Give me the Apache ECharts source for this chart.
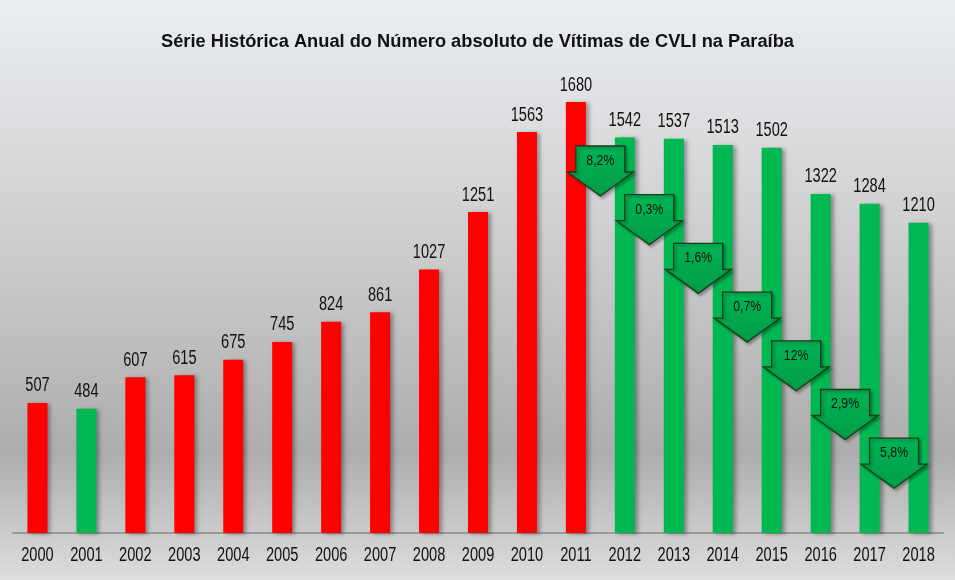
<!DOCTYPE html>
<html>
<head>
<meta charset="utf-8">
<script src="https://cdn.jsdelivr.net/npm/echarts@6/dist/echarts.min.js"></script>
<style>
html,body{margin:0;padding:0;background:#fff;}
#c{width:955px;height:580px;}
</style>
</head>
<body>
<div id="c"></div>
<script>
var years = ['2000','2001','2002','2003','2004','2005','2006','2007','2008','2009','2010','2011','2012','2013','2014','2015','2016','2017','2018'];
var victims = [507,484,607,615,675,745,824,861,1027,1251,1563,1680,1542,1537,1513,1502,1322,1284,1210];
var dropStartYears = ['2011','2012','2013','2014','2015','2016','2017'];
var dropLabels = ['8,2%','0,3%','1,6%','0,7%','12%','2,9%','5,8%'];
var titleText = 'Série Histórica Anual do Número absoluto de Vítimas de CVLI na Paraíba';

var RED = '#ff0000', GREEN = '#00b852';
var FAMILY = '"Liberation Sans",Arial,sans-serif';

// narrow-font emulation: horizontal squeeze factors
var ctx = document.createElement('canvas').getContext('2d');
function measure(font, txt){ ctx.font = font; return ctx.measureText(txt).width; }
var NUM_FONT = '20px ' + FAMILY;
var NUM_SX = 32.5 / measure(NUM_FONT, '2000');
var PCT_FONT = '14px ' + FAMILY;
var PCT_SX = 28 / measure(PCT_FONT, '8,2%');
var TITLE_FONT = 'bold 19px ' + FAMILY;
var TITLE_SX = 633 / measure(TITLE_FONT, titleText);

var barData = victims.map(function(v, i){
  var up = (i === 0) || v > victims[i-1];
  return {value: v, itemStyle: {color: up ? RED : GREEN}};
});
var labelData = victims.map(function(v, i){ return [i, v, years[i]]; });
var arrowData = dropStartYears.map(function(y, i){ return [years.indexOf(y), i, dropLabels[i]]; });

function narrowText(x, y, txt, font, sx){
  return {
    type: 'text', x: x, y: y, scaleX: sx,
    style: {x: 0, y: 0, text: txt, font: font, align: 'center', verticalAlign: 'middle', fill: '#111'}
  };
}

var chart = echarts.init(document.getElementById('c'));
chart.setOption({
  animation: false,
  graphic: [{
    type: 'rect', z: -100, silent: true,
    shape: {x: 0, y: 0, width: 955, height: 580},
    style: {fill: new echarts.graphic.LinearGradient(0,0,0,1,[
      {offset: 0, color: '#ebeef1'},
      {offset: 0.45, color: '#cbcbcc'},
      {offset: 0.78, color: '#adadad'},
      {offset: 1, color: '#dddddd'}
    ])}
  }, {
    type: 'text', x: 477.5, y: 42, scaleX: TITLE_SX, z: 10, silent: true,
    style: {x: 0, y: 0, text: titleText, font: TITLE_FONT, align: 'center', verticalAlign: 'middle', fill: '#111'}
  }],
  grid: {left: 13, right: 12, top: 20, bottom: 47},
  xAxis: {
    type: 'category', data: years, boundaryGap: true,
    axisLine: {lineStyle: {color: '#9a9a9a', width: 2}},
    axisTick: {show: false},
    axisLabel: {show: false}
  },
  yAxis: {type: 'value', min: 0, max: 2000, show: false, splitLine: {show: false}},
  series: [{
    type: 'bar', data: barData, barWidth: 20,
    itemStyle: {shadowColor: 'rgba(0,0,0,0.35)', shadowBlur: 4, shadowOffsetX: 3, shadowOffsetY: 1},
    z: 2
  }, {
    // value labels above bars and category labels under the axis
    type: 'custom', data: labelData, z: 4, silent: true,
    renderItem: function(params, api){
      var top = api.coord([api.value(0), api.value(1)]);
      var base = api.coord([api.value(0), 0]);
      return {
        type: 'group',
        children: [
          narrowText(top[0], top[1] - 17, String(api.value(1)), NUM_FONT, NUM_SX),
          narrowText(base[0], base[1] + 22, labelData[params.dataIndex][2], NUM_FONT, NUM_SX)
        ]
      };
    }
  }, {
    type: 'custom', data: arrowData, z: 5, silent: true,
    renderItem: function(params, api){
      var idx = api.value(0), k = api.value(1);
      var band = api.size([1, 0])[0];
      var base = api.coord([idx, 0]);
      var tx = base[0] + band / 2;
      var top = 146 + k * 48.7;
      var rw = 24.5, hw = 33, rh = 26, th = 50;
      var pts = [[tx-rw, top],[tx+rw, top],[tx+rw, top+rh],[tx+hw, top+rh],[tx, top+th],[tx-hw, top+rh],[tx-rw, top+rh]];
      return {
        type: 'group',
        children: [{
          type: 'polygon',
          shape: {points: pts},
          style: {
            fill: new echarts.graphic.LinearGradient(0,0,0,1,[{offset:0,color:'#00b455'},{offset:1,color:'#009c46'}]),
            stroke: '#1c3a1c', lineWidth: 1.3,
            shadowColor: 'rgba(0,0,0,0.3)', shadowBlur: 3, shadowOffsetX: 2, shadowOffsetY: 2
          }
        }, narrowText(tx, top + 15, dropLabels[params.dataIndex], PCT_FONT, PCT_SX)]
      };
    }
  }]
});
</script>
</body>
</html>
